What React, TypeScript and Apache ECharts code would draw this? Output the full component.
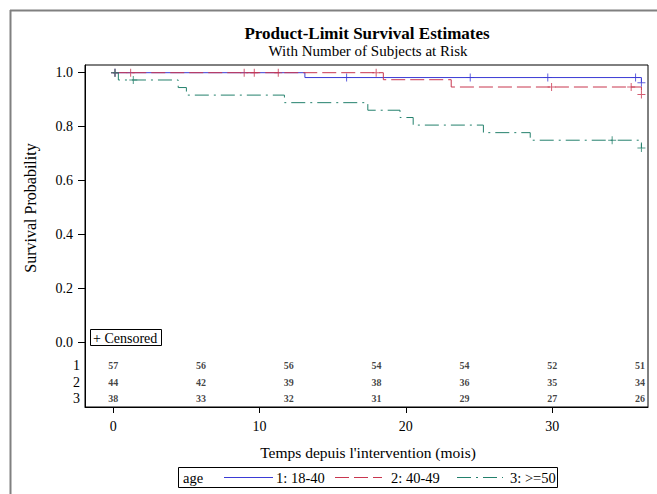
import React, { useEffect, useRef } from "react";
import * as echarts from "echarts";

const FONT = "'Liberation Serif', 'Times New Roman', serif";

const seriesNames = ["1: 18-40", "2: 40-49", "3: >=50"];
const colors = ["#3b3bd4", "#c8364f", "#23806c"];

// Kaplan-Meier step curves (time in months, survival probability)
const time1 = [0, 13.1, 36.1];
const surv1 = [1, 0.982, 0.963];
const time2 = [0, 18.46, 23.1, 36.1];
const surv2 = [1, 0.974, 0.947, 0.919];
const time3 = [0, 0.35, 4.44, 5.0, 11.7, 17.4, 19.6, 20.5, 25.3, 28.5, 36.1];
const surv3 = [1, 0.973, 0.945, 0.917, 0.889, 0.861, 0.834, 0.806, 0.778, 0.75, 0.721];

// Censored observations
const cens1T = [0.12, 15.95, 24.4, 29.7, 35.7, 36.1];
const cens1S = [1, 0.982, 0.982, 0.982, 0.982, 0.963];
const cens2T = [0.12, 1.19, 8.95, 9.64, 11.28, 17.97, 29.96, 35.4, 36.1];
const cens2S = [1, 1, 1, 1, 1, 1, 0.947, 0.947, 0.919];
const cens3T = [0.12, 1.37, 34.1, 36.1];
const cens3S = [1, 0.973, 0.75, 0.721];

// Number at risk table
const atRiskTimes = [0, 6, 12, 18, 24, 30, 36];
const atRisk1 = [57, 56, 56, 54, 54, 52, 51];
const atRisk2 = [44, 42, 39, 38, 36, 35, 34];
const atRisk3 = [38, 33, 32, 31, 29, 27, 26];
const rowLabels = ["1", "2", "3"];
const rowY = [-0.086, -0.147, -0.208];

const xTicks = [0, 10, 20, 30];
const yTicks = [0, 0.2, 0.4, 0.6, 0.8, 1.0];

const lineTypes: any[] = ["solid", [14, 5], [14, 5, 2, 5]];

const PLUS = "path://M0,3.5H8V4.5H0ZM3.5,0H4.5V8H3.5Z";

export default function App() {
  const ref = useRef<HTMLDivElement>(null);
  useEffect(() => {
    if (!ref.current) return;
    const chart = echarts.init(ref.current, undefined, { renderer: "svg" });
    const times = [time1, time2, time3];
    const survs = [surv1, surv2, surv3];
    const censT = [cens1T, cens2T, cens3T];
    const censS = [cens1S, cens2S, cens3S];
    const risks = [atRisk1, atRisk2, atRisk3];

    const series: any[] = [];
    for (let g = 0; g < 3; g++) {
      series.push({
        type: "line",
        name: seriesNames[g],
        step: "end",
        symbol: "none",
        clip: false,
        data: times[g].map((t, i) => [t, survs[g][i]]),
        lineStyle: { color: colors[g], width: 1, type: lineTypes[g] },
        z: 2 + g,
      });
    }
    for (let g = 0; g < 3; g++) {
      series.push({
        type: "scatter",
        name: seriesNames[g] + " censored",
        symbol: PLUS,
        symbolSize: 8,
        clip: false,
        itemStyle: { color: colors[g] },
        data: censT[g].map((t, i) => [t, censS[g][i]]),
        z: 5 + g,
      });
    }
    for (let g = 0; g < 3; g++) {
      series.push({
        type: "scatter",
        name: "at risk " + rowLabels[g],
        symbolSize: 0,
        silent: true,
        clip: false,
        label: {
          show: true,
          position: "inside",
          formatter: (p: any) => String(p.value[2]),
          fontSize: 10,
          fontWeight: "bold",
          fontFamily: FONT,
          color: "#111",
        },
        data: atRiskTimes.map((t, i) => [t, rowY[g], risks[g][i]]),
      });
    }

    const option: any = {
      animation: false,
      backgroundColor: "#fff",
      grid: {
        left: 85,
        top: 65,
        width: 563,
        height: 342,
        show: true,
        borderColor: "#000",
        borderWidth: 1,
      },
      xAxis: {
        type: "value",
        min: -1.93,
        max: 36.55,
        axisLine: { show: true, onZero: false, lineStyle: { color: "#000", width: 1 } },
        axisTick: {
          show: true,
          length: 6,
          customValues: xTicks,
          lineStyle: { color: "#000" },
        },
        axisLabel: {
          customValues: xTicks,
          margin: 12,
          fontSize: 14,
          fontFamily: FONT,
          color: "#000",
        },
        splitLine: { show: false },
      },
      yAxis: [
        {
          type: "value",
          min: -0.238,
          max: 1.0285,
          axisLine: { show: true, onZero: false, lineStyle: { color: "#000", width: 1 } },
          axisTick: {
            show: true,
            length: 7,
            customValues: yTicks,
            lineStyle: { color: "#000" },
          },
          axisLabel: {
            customValues: yTicks,
            formatter: (v: number) => v.toFixed(1),
            margin: 12,
            fontSize: 14,
            fontFamily: FONT,
            color: "#000",
          },
          splitLine: { show: false },
        },
        {
          type: "value",
          position: "left",
          min: -0.238,
          max: 1.0285,
          axisLine: { show: false, onZero: false },
          axisTick: { show: false },
          axisLabel: {
            customValues: rowY,
            formatter: (v: number) => {
              const idx = rowY.findIndex((r) => Math.abs(r - v) < 1e-6);
              return idx >= 0 ? rowLabels[idx] : "";
            },
            margin: 5,
            fontSize: 14,
            fontFamily: FONT,
            color: "#000",
          },
          splitLine: { show: false },
        },
      ],
      series,
      graphic: [
        {
          type: "line",
          shape: { x1: 10, y1: 10.5, x2: 657, y2: 10.5 },
          style: { stroke: "#808080", lineWidth: 2 },
          silent: true,
        },
        {
          type: "line",
          shape: { x1: 10.5, y1: 10, x2: 10.5, y2: 494 },
          style: { stroke: "#808080", lineWidth: 2 },
          silent: true,
        },
        {
          type: "text",
          x: 367,
          y: 33,
          style: {
            text: "Product-Limit Survival Estimates",
            font: `bold 17px ${FONT}`,
            fill: "#000",
            textAlign: "center",
            textVerticalAlign: "middle",
          },
        },
        {
          type: "text",
          x: 368,
          y: 51,
          style: {
            text: "With Number of Subjects at Risk",
            font: `15px ${FONT}`,
            fill: "#000",
            textAlign: "center",
            textVerticalAlign: "middle",
          },
        },
        {
          type: "text",
          x: 30,
          y: 208,
          rotation: Math.PI / 2,
          style: {
            text: "Survival Probability",
            font: `16px ${FONT}`,
            fill: "#000",
            textAlign: "center",
            textVerticalAlign: "middle",
          },
        },
        {
          type: "text",
          x: 368,
          y: 452,
          style: {
            text: "Temps depuis l'intervention (mois)",
            font: `15.5px ${FONT}`,
            fill: "#000",
            textAlign: "center",
            textVerticalAlign: "middle",
          },
        },
        {
          type: "rect",
          shape: { x: 90.5, y: 329.5, width: 71, height: 16 },
          style: { fill: "#fff", stroke: "#000", lineWidth: 1 },
          z: 10,
        },
        {
          type: "text",
          x: 93,
          y: 338,
          z: 11,
          style: {
            text: "+ Censored",
            font: `14px ${FONT}`,
            fill: "#000",
            textAlign: "left",
            textVerticalAlign: "middle",
          },
        },
        {
          type: "rect",
          shape: { x: 178.5, y: 467.5, width: 379, height: 20 },
          style: { fill: "#fff", stroke: "#000", lineWidth: 1 },
        },
        {
          type: "text",
          x: 183,
          y: 477.5,
          style: {
            text: "age",
            font: `14.5px ${FONT}`,
            fill: "#000",
            textAlign: "left",
            textVerticalAlign: "middle",
          },
        },
        ...[
          [224, 273, 276],
          [335, 382, 391],
          [457, 503, 510],
        ].flatMap((p, g) => [
          {
            type: "line",
            shape: { x1: p[0], y1: 477.5, x2: p[1], y2: 477.5 },
            style: {
              stroke: colors[g],
              lineWidth: 1,
              lineDash: g === 0 ? null : (lineTypes[g] as number[]),
            },
          },
          {
            type: "text",
            x: p[2],
            y: 477.5,
            style: {
              text: seriesNames[g],
              font: `14.5px ${FONT}`,
              fill: "#000",
              textAlign: "left",
              textVerticalAlign: "middle",
            },
          },
        ]),
      ],
    };
    chart.setOption(option);
    return () => chart.dispose();
  }, []);
  return (
    <div
      ref={ref}
      style={{ position: "absolute", left: 0, top: 0, width: 657, height: 494 }}
    />
  );
}
